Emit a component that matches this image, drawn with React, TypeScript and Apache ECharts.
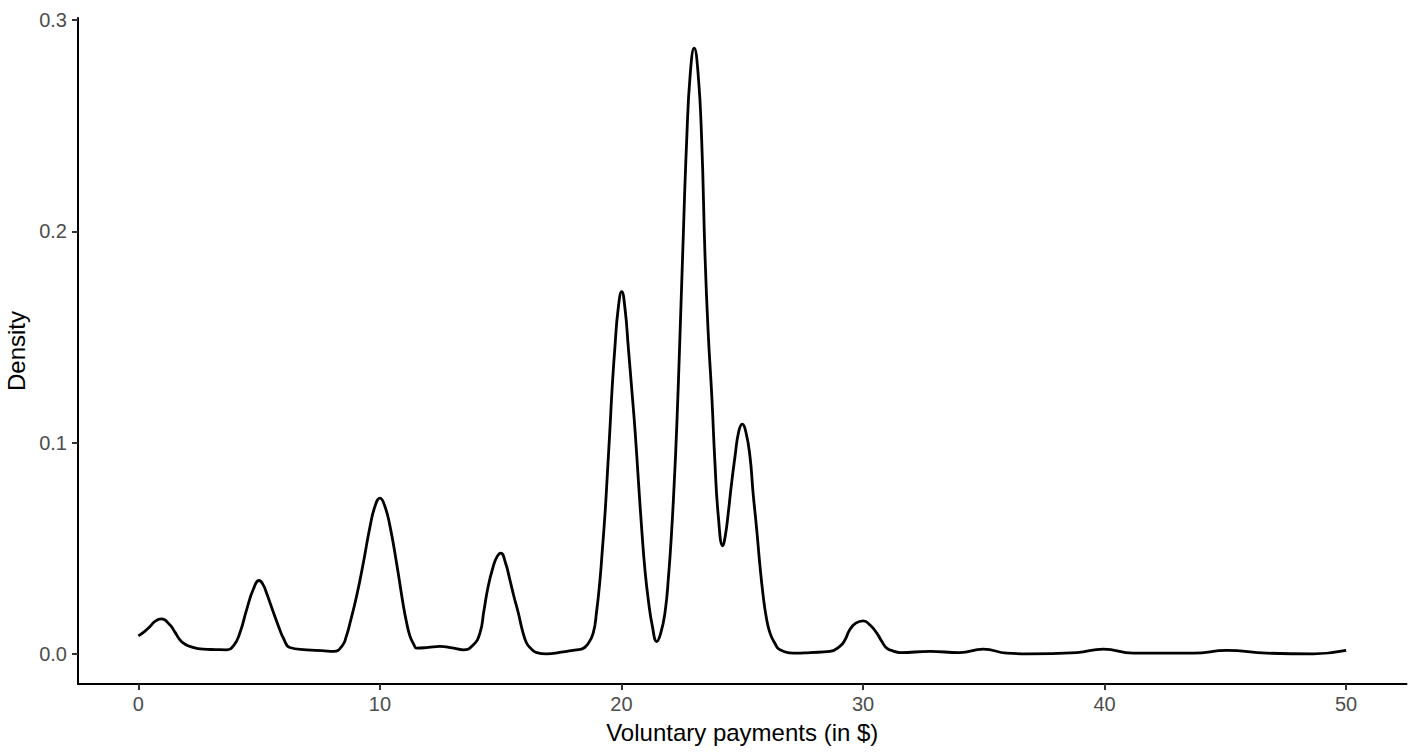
import React, { useEffect, useRef } from "react";
import * as echarts from "echarts";

const payments = [
  0, 0.25, 0.48, 0.7, 0.96, 1.3, 1.5, 1.72, 1.9, 2.13, 2.68, 3.2, 3.65, 3.95, 4.2, 4.48, 4.75, 5.0, 5.15, 5.31,
  5.5, 5.72, 5.85, 6.0, 6.27, 6.96, 7.6, 8.1, 8.45, 8.6, 8.76, 9.03, 9.31, 9.59, 9.8, 10.0, 10.2, 10.42, 10.69,
  10.96, 11.1, 11.24, 11.4, 11.52, 12.0, 12.48, 13.0, 13.45, 13.85, 14.14, 14.3, 14.48, 14.69, 14.85, 15.0,
  15.2, 15.38, 15.55, 15.73, 15.9, 16.07, 16.25, 16.49, 16.9, 17.5, 18.14, 18.35, 18.6, 18.83, 18.97, 19.11,
  19.2, 19.32, 19.42, 19.52, 19.62, 19.73, 19.86, 20.01, 20.15, 20.28, 20.42, 20.56, 20.7, 20.84, 20.97, 21.11,
  21.28, 21.46, 21.62, 21.8, 21.95, 22.08, 22.18, 22.29, 22.42, 22.53, 22.7, 22.85, 23.01, 23.17, 23.32, 23.46,
  23.59, 23.74, 23.87, 24.01, 24.19, 24.3, 24.42, 24.55, 24.7, 24.85, 25.0, 25.15, 25.32, 25.45, 25.6, 25.73,
  25.87, 26.0, 26.15, 26.35, 26.56, 27.25, 27.8, 28.63, 29.04, 29.25, 29.45, 29.7, 30.01, 30.3, 30.57, 30.78,
  30.98, 31.25, 31.53, 32.77, 34.0, 34.98, 35.95, 36.8, 38.85, 39.95, 41.19, 43.68, 45.06, 46.72, 48.65, 50.0,
];

const density = [
  0.0085, 0.0105, 0.0129, 0.0155, 0.0165, 0.0137, 0.0105, 0.0066, 0.0048, 0.0035, 0.0022, 0.002, 0.0019, 0.004,
  0.0098, 0.0208, 0.0303, 0.0347, 0.033, 0.0287, 0.0225, 0.0155, 0.0115, 0.0075, 0.003, 0.0019, 0.0015, 0.0011,
  0.004, 0.008, 0.0145, 0.0271, 0.0429, 0.0602, 0.07, 0.0737, 0.07, 0.0602, 0.0429, 0.0235, 0.015, 0.0085,
  0.0045, 0.0027, 0.003, 0.0035, 0.0028, 0.0019, 0.004, 0.0098, 0.02, 0.0319, 0.0413, 0.046, 0.0477, 0.043,
  0.035, 0.027, 0.0193, 0.011, 0.0051, 0.0025, 0.0006, 0.0, 0.0008, 0.0019, 0.0022, 0.0045, 0.0098, 0.02,
  0.035, 0.048, 0.0666, 0.086, 0.106, 0.127, 0.1454, 0.163, 0.1715, 0.163, 0.1454, 0.126, 0.106, 0.082, 0.0587,
  0.04, 0.0256, 0.013, 0.0058, 0.0095, 0.0193, 0.037, 0.0587, 0.08, 0.108, 0.15, 0.188, 0.2433, 0.275, 0.2867,
  0.275, 0.2433, 0.188, 0.152, 0.1218, 0.0903, 0.065, 0.0511, 0.056, 0.0666, 0.08, 0.0934, 0.105, 0.1087,
  0.105, 0.0934, 0.076, 0.0587, 0.042, 0.0271, 0.017, 0.0098, 0.005, 0.0019, 0.0003, 0.0006, 0.0011, 0.0035,
  0.0065, 0.0114, 0.0145, 0.0156, 0.0135, 0.0098, 0.0058, 0.0027, 0.0013, 0.0006, 0.0011, 0.0006, 0.0022,
  0.0003, 0.0, 0.0006, 0.0022, 0.0003, 0.0003, 0.0016, 0.0003, 0.0, 0.0016,
];

const xTicks = [0, 10, 20, 30, 40, 50];
const yTicks = [0, 0.1, 0.2, 0.3];
const xTitle = "Voluntary payments (in $)";
const yTitle = "Density";

const FONT = "'Liberation Sans', Arial, Helvetica, sans-serif";

export default function App() {
  const ref = useRef<HTMLDivElement>(null);
  useEffect(() => {
    const chart = echarts.init(ref.current!, null, { renderer: "svg" });
    const data = payments.map((x, i) => [x, density[i]]);
    chart.setOption({
      animation: false,
      backgroundColor: "#ffffff",
      grid: { left: 78, right: 10.5, top: 18, bottom: 68, containLabel: false, outerBoundsMode: "none" },
      xAxis: {
        type: "value",
        min: -2.5,
        max: 52.5,
        name: xTitle,
        nameLocation: "middle",
        nameGap: 36,
        nameTextStyle: { color: "#000", fontSize: 24, fontFamily: FONT },
        splitLine: { show: false },
        axisLine: { onZero: false, lineStyle: { color: "#000", width: 2 } },
        axisTick: { customValues: xTicks, length: 6, lineStyle: { color: "#333", width: 2 } },
        axisLabel: { customValues: xTicks, color: "#4D4D4D", fontSize: 20, margin: 10, fontFamily: FONT },
      },
      yAxis: {
        type: "value",
        min: -0.0143,
        max: 0.301,
        name: yTitle,
        nameLocation: "middle",
        nameRotate: 90,
        nameGap: 46,
        nameTextStyle: { color: "#000", fontSize: 24, fontFamily: FONT },
        splitLine: { show: false },
        axisLine: { onZero: false, lineStyle: { color: "#000", width: 2 } },
        axisTick: { customValues: yTicks, length: 6, lineStyle: { color: "#333", width: 2 } },
        axisLabel: {
          customValues: yTicks,
          color: "#4D4D4D",
          fontSize: 20,
          margin: 11,
          fontFamily: FONT,
          formatter: (v: number) => v.toFixed(1),
        },
      },
      series: [
        {
          type: "line",
          data,
          symbol: "none",
          smooth: 0.5,
          lineStyle: { color: "#000", width: 2.8 },
        },
      ],
    });
    return () => chart.dispose();
  }, []);
  return (
    <div
      ref={ref}
      style={{ position: "fixed", left: 0, top: 0, width: 1417, height: 752, background: "#fff" }}
    />
  );
}
